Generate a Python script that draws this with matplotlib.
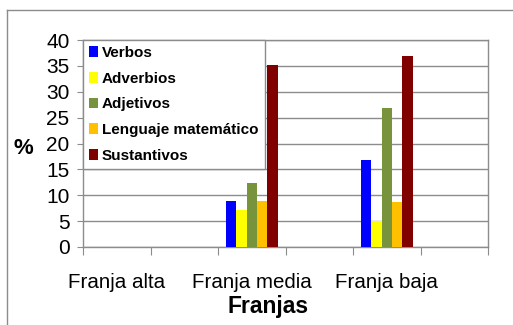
import matplotlib
matplotlib.use("Agg")
import matplotlib.pyplot as plt
import numpy as np
from matplotlib.lines import Line2D

plt.rcParams['font.family'] = ['Liberation Sans', 'DejaVu Sans']

categories = ["Franja alta", "", "Franja media", "", "Franja baja", ""]
series_names = ["Verbos", "Adverbios", "Adjetivos", "Lenguaje matemático", "Sustantivos"]
verbos = [0, 0, 8.8, 0, 16.9, 0]
adverbios = [0, 0, 7.1, 0, 5.1, 0]
adjetivos = [0, 0, 12.4, 0, 26.9, 0]
lenguaje = [0, 0, 8.8, 0, 8.7, 0]
sustantivos = [0, 0, 35.1, 0, 37.0, 0]
colors = ["#0000FF", "#FFFF00", "#77933C", "#FFC000", "#800000"]

values = [verbos, adverbios, adjetivos, lenguaje, sustantivos]

fig = plt.figure(figsize=(5.13, 3.25), dpi=100)
W, H = 513, 325
ax = fig.add_axes([83 / W, 1 - 247 / H, (488 - 83) / W, (247 - 40) / H])

n = len(series_names)
x = np.arange(len(categories))
group_w = 0.77
bw = group_w / n
for i, (name, vals, c) in enumerate(zip(series_names, values, colors)):
    ax.bar(x - group_w / 2 + bw * (i + 0.5), vals, width=bw, color=c, label=name, zorder=3)

ax.set_xlim(-0.5, len(categories) - 0.5)
ax.set_ylim(0, 40)
ax.set_yticks(np.arange(0, 41, 5))
ax.yaxis.grid(True, color="#8C8C8C", linewidth=1.0, zorder=0)
ax.set_axisbelow(True)
ax.set_xticks(np.arange(-0.5, len(categories), 1.0))
ax.set_xticklabels([])
ax.set_xticks(x, minor=True)
ax.set_xticklabels(categories, minor=True, fontsize=14.8)
ax.tick_params(axis="x", which="minor", length=0, pad=19)
ax.tick_params(axis="x", which="major", length=6, color="#8C8C8C", direction="out")
ax.tick_params(axis="y", length=4.3, color="#8C8C8C", direction="out", labelsize=15, pad=5.5)
for s in ax.spines.values():
    s.set_color("#8C8C8C")
    s.set_linewidth(1.0)

ax.set_xlabel("Franjas", fontsize=16.5, fontweight="bold")
ax.xaxis.set_label_coords((268 - 83) / 405, (247 - 306) / 207)
ax.xaxis.label.set_va("center")
ax.set_ylabel("%", fontsize=16, fontweight="bold", rotation=0, va="center", ha="center")
ax.yaxis.set_label_coords((23 - 83) / 405, (247 - 148) / 207)

leg = ax.legend(loc="upper left", bbox_to_anchor=(0, 1), borderaxespad=0,
                prop={"weight": "bold", "size": 11}, handlelength=0.55, handleheight=0.7,
                handletextpad=0.3, labelspacing=0.76, fancybox=False, framealpha=1,
                edgecolor="#8C8C8C", borderpad=0.4)
leg.get_frame().set_linewidth(1.0)
leg.set_zorder(5)

# figure border (top and left)
fig.add_artist(Line2D([7 / W, 1], [1 - 10 / H, 1 - 10 / H], transform=fig.transFigure, color="#8C8C8C", lw=1))
fig.add_artist(Line2D([7 / W, 7 / W], [1 - 10 / H, 0], transform=fig.transFigure, color="#8C8C8C", lw=1))

fig.savefig("out.png", dpi=100)
